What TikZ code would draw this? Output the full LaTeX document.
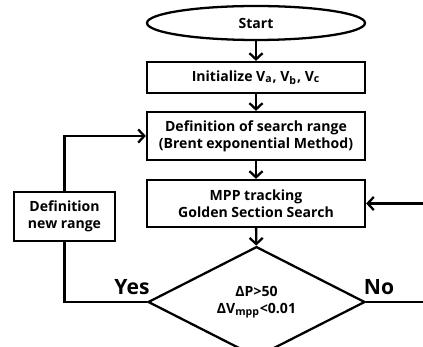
\documentclass[tikz,border=0pt]{standalone}
\usepackage{fontspec}
\setmainfont{Open Sans}
\usetikzlibrary{positioning,shapes.geometric,arrows.meta}

\begin{document}
\begin{tikzpicture}[
    x=0.02cm, y=-0.02cm,
    font=\fontsize{8}{9.8}\selectfont\bfseries,
    line width=1.3pt,
    proc/.style={
        draw=black,
        rectangle,
        minimum width=4.36cm,
        align=center,
        inner sep=1pt
    },
    term/.style={
        draw=black,
        ellipse,
        minimum width=4.36cm,
        minimum height=0.68cm,
        inner sep=0pt
    },
    decide/.style={
        draw=black,
        diamond,
        minimum width=4.34cm,
        minimum height=2.0cm,
        inner sep=0pt,
        align=center
    },
    lbl/.style={font=\fontsize{12}{14}\selectfont\bfseries},
    arr/.style={-{Straight Barb[length=3.5pt,width=7.5pt]}}
]

\clip (0,0) rectangle (423,347);

\node[term] (start) at (256,23) {Start};

\node[proc, minimum height=0.62cm] (init) at (256,77.5)
{Initialize V\textsubscript{a}, V\textsubscript{b}, V\textsubscript{c}};

\node[proc, minimum height=0.96cm] (range) at (256,136)
{Definition of search range\\(Brent exponential Method)};

\node[proc, minimum height=0.94cm] (mpp) at (256,203.5)
{MPP tracking\\Golden Section Search};

\node[decide] (check) at (256.5,302)
{ΔP>50\\ΔV\textsubscript{mpp}<0.01};

\node[proc, minimum width=2.02cm, minimum height=0.98cm] (newrange) at (64.5,216.5)
{Definition\\new range};

\node[lbl] (yes) at (132,287) {Yes};
\node[lbl] (no) at (379,287) {No};

\coordinate (noturn) at (440,302);

\draw[arr] (start) -- (init);
\draw[arr] (init) -- (range);
\draw[arr] (range) -- (mpp);
\draw[arr] (mpp) -- (check);
\draw (check.west) -| (newrange.south);
\draw[arr] (newrange.north) |- (range.west);
\draw[arr] (check.east) -- (noturn) |- (mpp.east);

\end{tikzpicture}
\end{document}
